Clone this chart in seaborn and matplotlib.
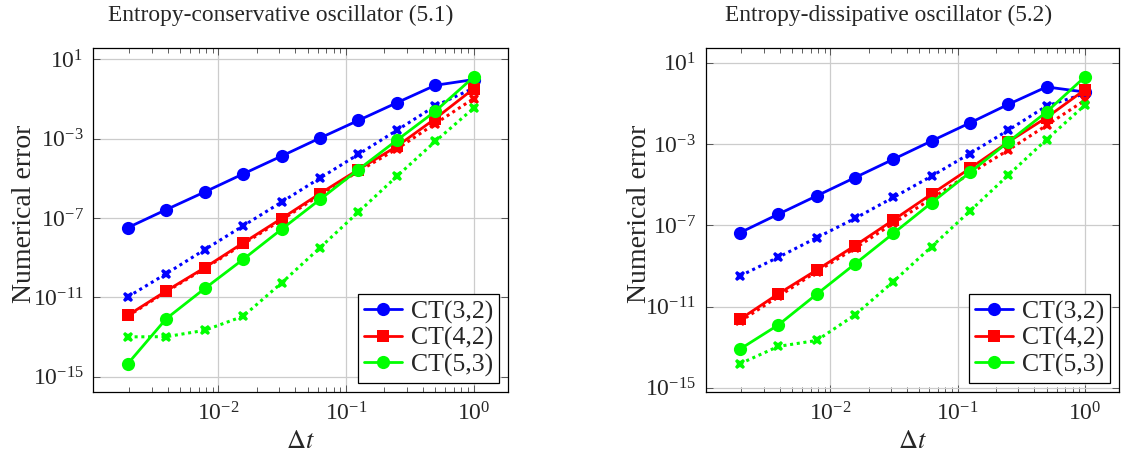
import numpy as np
import pandas as pd
import matplotlib
matplotlib.use("Agg")
import matplotlib.pyplot as plt
import seaborn as sns
from matplotlib.lines import Line2D
from matplotlib.ticker import LogLocator, NullLocator, NullFormatter

sns.set_style("ticks")
plt.rcParams['font.family'] = ['Liberation Serif', 'DejaVu Serif']
plt.rcParams['mathtext.fontset'] = 'stix'

# ---- data (log10 of error) ----
dt = [2.0**-9, 2.0**-8, 2.0**-7, 2.0**-6, 2.0**-5, 2.0**-4, 2.0**-3, 2.0**-2, 2.0**-1, 1.0]

methods = ["CT(3,2)", "CT(4,2)", "CT(5,3)"]

# Entropy-conservative oscillator (5.1)
cons_ct32 = [-7.49, -6.58, -5.69, -4.78, -3.88, -2.97, -2.08, -1.19, -0.31, -0.02]
cons_ct32_dot = [-10.98, -9.81, -8.60, -7.40, -6.20, -4.99, -3.79, -2.58, -1.35, -0.45]
cons_ct42 = [-11.91, -10.68, -9.51, -8.26, -7.03, -5.77, -4.56, -3.39, -1.99, -0.48]
cons_ct42_dot = [-11.95, -10.72, -9.55, -8.32, -7.10, -5.85, -4.65, -3.52, -2.24, -0.98]
cons_ct53 = [-14.35, -12.08, -10.56, -9.09, -7.57, -6.07, -4.56, -3.08, -1.62, 0.11]
cons_ct53_dot = [-13.00, -12.99, -12.67, -11.96, -10.28, -8.50, -6.70, -4.90, -3.14, -1.46]

# Entropy-dissipative oscillator (5.2)
diss_ct32 = [-7.36, -6.45, -5.55, -4.65, -3.75, -2.85, -1.96, -1.05, -0.19, -0.44]
diss_ct32_dot = [-9.49, -8.57, -7.61, -6.66, -5.63, -4.58, -3.47, -2.32, -1.13, -0.52]
diss_ct42 = [-11.62, -10.37, -9.20, -8.00, -6.74, -5.46, -4.20, -2.90, -1.70, -0.33]
diss_ct42_dot = [-11.73, -10.50, -9.28, -8.13, -6.90, -5.68, -4.45, -3.30, -2.08, -0.85]
diss_ct53 = [-13.09, -11.90, -10.39, -8.90, -7.40, -5.89, -4.40, -2.90, -1.42, 0.30]
diss_ct53_dot = [-13.81, -12.96, -12.67, -11.41, -9.77, -8.05, -6.30, -4.53, -2.78, -1.09]

titles = ["Entropy-conservative oscillator (5.1)", "Entropy-dissipative oscillator (5.2)"]
colors = {"CT(3,2)": "#0000ff", "CT(4,2)": "#ff0000", "CT(5,3)": "#00ff00"}
markers = {"CT(3,2)": "o", "CT(4,2)": "s", "CT(5,3)": "o"}

panels = [
    {"CT(3,2)": (cons_ct32, cons_ct32_dot), "CT(4,2)": (cons_ct42, cons_ct42_dot), "CT(5,3)": (cons_ct53, cons_ct53_dot)},
    {"CT(3,2)": (diss_ct32, diss_ct32_dot), "CT(4,2)": (diss_ct42, diss_ct42_dot), "CT(5,3)": (diss_ct53, diss_ct53_dot)},
]

W, H = 1121, 457
fig = plt.figure(figsize=(W / 100, H / 100), dpi=100)
ax_boxes = [(93.3, 48.3, 508.3, 392.3), (705.7, 48.3, 1119.3, 392.3)]
title_x = [0.451, 0.441]
ylab_x = [-0.136, -0.13]

for i, (box, title, data) in enumerate(zip(ax_boxes, titles, panels)):
    x0, y0, x1, y1 = box
    ax = fig.add_axes([x0 / W, 1 - y1 / H, (x1 - x0) / W, (y1 - y0) / H])
    allv = []
    for m in methods:
        solid, dotted = data[m]
        allv += solid + dotted
        df_s = pd.DataFrame({"dt": dt, "err": 10.0 ** np.array(solid)})
        df_d = pd.DataFrame({"dt": dt, "err": 10.0 ** np.array(dotted)})
        sns.lineplot(data=df_s, x="dt", y="err", ax=ax, color=colors[m], lw=2.0,
                     marker=markers[m], markersize=9.5 if markers[m] == "o" else 9,
                     markeredgewidth=0, zorder=3)
        sns.lineplot(data=df_d, x="dt", y="err", ax=ax, color=colors[m], lw=2.2,
                     marker="X", markersize=7.5, markeredgewidth=0, zorder=3,
                     dashes=False)
        ax.lines[-1].set_dashes([1, 1.2])
    ax.set_xscale("log")
    ax.set_yscale("log")
    lx = np.log10(dt)
    ex = 0.1 * (lx.max() - lx.min())
    ax.set_xlim(10 ** (lx.min() - ex), 10 ** (lx.max() + ex))
    ymin, ymax = min(allv), max(allv)
    ey = 0.1 * (ymax - ymin)
    ax.set_ylim(10 ** (ymin - ey), 10 ** (ymax + ey))
    ax.set_yticks(10.0 ** np.arange(-15, 2, 4))
    ax.yaxis.set_minor_locator(NullLocator())
    ax.xaxis.set_major_locator(LogLocator(base=10, numticks=10))
    ax.xaxis.set_minor_locator(LogLocator(base=10, subs=np.arange(2, 10), numticks=20))
    ax.xaxis.set_minor_formatter(NullFormatter())
    ax.grid(True, which="major", color="#cccccc", lw=0.9, zorder=0)
    ax.tick_params(which="both", direction="in", top=True, right=True, labelsize=17, pad=7, width=0.6, color="#444444")
    ax.tick_params(which="major", length=5)
    ax.tick_params(which="minor", length=3.5)
    for s in ax.spines.values():
        s.set_linewidth(0.9)
        s.set_color("black")
    ax.set_xlabel(r"$\Delta t$", fontsize=19)
    ax.xaxis.set_label_coords(0.5, -0.112)
    ax.set_ylabel("Numerical error", fontsize=20)
    ax.yaxis.set_label_coords(ylab_x[i], 0.52)
    ax.text(title_x[i], 1.097, title, transform=ax.transAxes, ha="center", va="center", fontsize=16.8)
    handles = [Line2D([0], [0], color=colors[m], lw=2.0, marker=markers[m],
                      markersize=9.5 if markers[m] == "o" else 9, markeredgewidth=0) for m in methods]
    leg = ax.legend(handles, methods, loc="lower right", fontsize=18.5, frameon=True, fancybox=False,
                    framealpha=1, edgecolor="black", borderaxespad=0.35, handlelength=1.45,
                    handletextpad=0.35, labelspacing=0.12, borderpad=0.25)
    leg.get_frame().set_linewidth(0.9)

fig.savefig("out.png", dpi=100)
